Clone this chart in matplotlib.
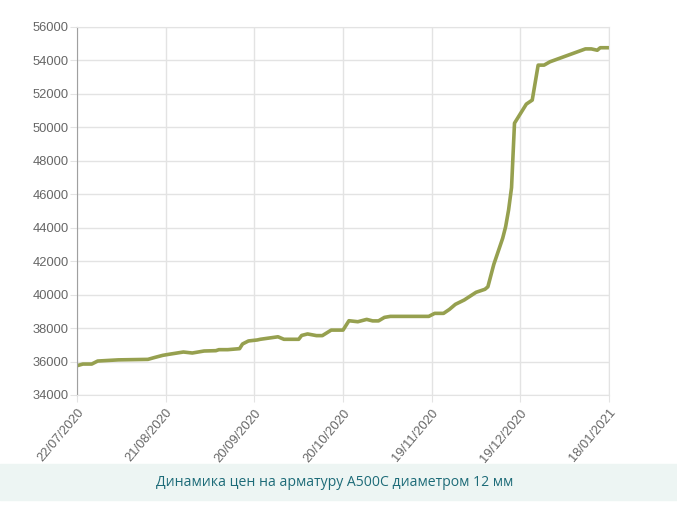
import matplotlib
matplotlib.use('Agg')
import matplotlib.pyplot as plt
import matplotlib.dates as mdates
import pandas as pd
from matplotlib.patches import Rectangle

# price of rebar A500C d12, rub/t
dates = ['2020-07-22', '2020-07-24', '2020-07-27', '2020-07-29', '2020-08-05',
         '2020-08-15', '2020-08-17', '2020-08-20', '2020-08-22', '2020-08-27',
         '2020-08-30', '2020-09-03', '2020-09-07', '2020-09-08', '2020-09-11',
         '2020-09-15', '2020-09-16', '2020-09-18', '2020-09-21', '2020-09-22',
         '2020-09-28', '2020-09-30', '2020-10-05', '2020-10-06', '2020-10-08',
         '2020-10-11', '2020-10-13', '2020-10-16', '2020-10-20', '2020-10-22',
         '2020-10-25', '2020-10-28', '2020-10-30', '2020-11-01', '2020-11-03',
         '2020-11-05', '2020-11-18', '2020-11-20', '2020-11-23', '2020-11-25',
         '2020-11-27', '2020-11-30', '2020-12-04', '2020-12-07', '2020-12-08',
         '2020-12-10', '2020-12-13', '2020-12-14', '2020-12-15', '2020-12-16',
         '2020-12-17', '2020-12-21', '2020-12-23', '2020-12-25', '2020-12-27',
         '2020-12-29', '2021-01-10', '2021-01-12', '2021-01-14', '2021-01-15',
         '2021-01-18']
prices = [35750, 35850, 35850, 36030, 36100,
          36130, 36230, 36370, 36430, 36570,
          36510, 36630, 36650, 36710, 36710,
          36770, 37050, 37230, 37290, 37330,
          37480, 37330, 37330, 37560, 37650,
          37550, 37550, 37880, 37880, 38440,
          38380, 38520, 38430, 38430, 38640,
          38700, 38700, 38880, 38880, 39120,
          39420, 39680, 40140, 40320, 40470,
          41810, 43370, 44060, 45060, 46400,
          50250, 51390, 51630, 53720, 53720,
          53920, 54690, 54690, 54610, 54760,
          54760]
tick_dates = ['2020-07-22', '2020-08-21', '2020-09-20', '2020-10-20',
              '2020-11-19', '2020-12-19', '2021-01-18']
title = 'Динамика цен на арматуру А500С диаметром 12 мм'

df = pd.DataFrame({'price': prices}, index=pd.to_datetime(dates))
ticks = pd.to_datetime(tick_dates)

fig = plt.figure(figsize=(6.77, 5.16), dpi=100)
ax = fig.add_axes([0.1137, 0.2345, 0.786, 0.7132])

ax.plot(df.index, df['price'], color='#96a04f', lw=2.6, solid_joinstyle='round')

ax.set_ylim(34000, 56000)
ax.set_yticks(range(34000, 56001, 2000))
ax.set_xlim(ticks[0], ticks[-1])
ax.set_xticks(ticks)
ax.xaxis.set_major_formatter(mdates.DateFormatter('%d/%m/%Y'))

ax.grid(True, color='#e3e3e3', lw=1)
ax.set_axisbelow(True)
for s in ['top', 'right', 'bottom']:
    ax.spines[s].set_color('#e3e3e3')
ax.spines['left'].set_color('#a0a0a0')
ax.tick_params(axis='both', color='#e3e3e3', length=5, labelcolor='#666666',
               labelsize=9.3)
ax.tick_params(axis='y', pad=1)
for lab in ax.get_yticklabels():
    lab.set_family('Liberation Sans')
for lab in ax.get_xticklabels():
    lab.set_family('Liberation Sans')
    lab.set_rotation(50)
    lab.set_ha('right')
    lab.set_rotation_mode('anchor')

# caption banner
fig.patches.append(Rectangle((0, 16 / 516), 1, 36 / 516, transform=fig.transFigure,
                             color='#edf5f3', zorder=0))
fig.text(0.494, 34 / 516, title, ha='center', va='center', color='#1d6b78',
         fontsize=10.1, family='Open Sans')

fig.savefig('out.png', dpi=100)
